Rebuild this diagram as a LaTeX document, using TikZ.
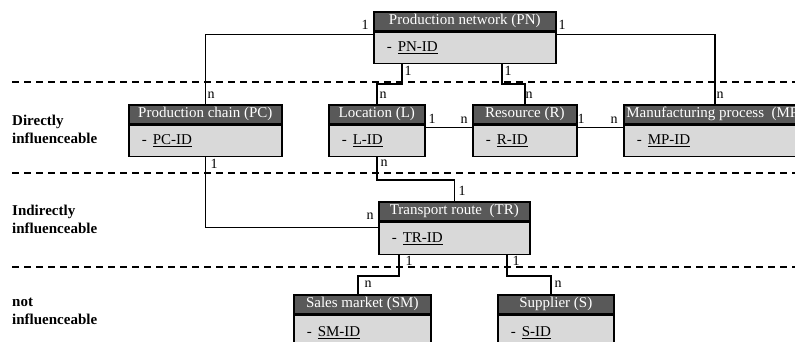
\documentclass[tikz,border=0pt]{standalone}
\usepackage{fontspec}
\setmainfont{Liberation Serif}
\definecolor{hdrgray}{HTML}{595959}
\definecolor{bodygray}{HTML}{D9D9D9}
\begin{document}
\begin{tikzpicture}[x=1pt,y=-1pt,
  hdr/.style={draw=black, line width=1.6pt, fill=hdrgray, text=white, inner sep=0pt,
    minimum height=19pt, font=\fontsize{15}{15}\selectfont, anchor=north west},
  bodyb/.style={draw=black, line width=1.6pt, fill=bodygray, inner ysep=0pt, inner xsep=13pt,
    font=\fontsize{15}{15}\selectfont, anchor=north west, align=left},
  card/.style={font=\fontsize{14}{14}\selectfont, inner sep=0pt},
  conn/.style={line width=1.6pt},
  sepline/.style={line width=1.5pt, dash pattern=on 7pt off 5pt},
  lvl/.style={font=\bfseries\fontsize{15}{18}\selectfont, align=left, anchor=west, inner sep=0pt}]
\clip (0,0) rectangle (795,342);
\fill[white] (0,0) rectangle (795,342);

% separators
\draw[sepline] (12,82) -- (795,82);
\draw[sepline] (12,173) -- (795,173);
\draw[sepline] (12,267) -- (795,267);

% level labels
\node[lvl] (lv1) at (12,129) {Directly\\influenceable};
\node[lvl] (lv2) at (12,219.5) {Indirectly\\influenceable};
\node[lvl] (lv3) at (12,311) {not\\influenceable};

% entities
\node[hdr, minimum width=182pt] (pnH) at (373,11) {Production network (PN)};
\node[bodyb, text width=156pt, minimum height=31pt] (pnB) at (pnH.south west) {-\hspace{6pt}\underline{PN-ID}};

\node[hdr, minimum width=153pt] (pcH) at (128,104) {Production chain (PC)};
\node[bodyb, text width=127pt, minimum height=31pt] (pcB) at (pcH.south west) {-\hspace{6pt}\underline{PC-ID}};

\node[hdr, minimum width=96pt] (lH) at (328,104) {Location (L)};
\node[bodyb, text width=70pt, minimum height=31pt] (lB) at (lH.south west) {-\hspace{6pt}\underline{L-ID}};

\node[hdr, minimum width=104pt] (rH) at (472,104) {Resource (R)};
\node[bodyb, text width=78pt, minimum height=31pt] (rB) at (rH.south west) {-\hspace{6pt}\underline{R-ID}};

\node[hdr, minimum width=182pt] (mpH) at (623,104) {Manufacturing process\ \ (MP)};
\node[bodyb, text width=156pt, minimum height=31pt] (mpB) at (mpH.south west) {-\hspace{6pt}\underline{MP-ID}};

\node[hdr, minimum width=151pt] (trH) at (378,201) {Transport route\ \ (TR)};
\node[bodyb, text width=125pt, minimum height=32pt] (trB) at (trH.south west) {-\hspace{6pt}\underline{TR-ID}};

\node[hdr, minimum width=137pt] (smH) at (293,294) {Sales market (SM)};
\node[bodyb, text width=111pt, minimum height=34pt] (smB) at (smH.south west) {-\hspace{6pt}\underline{SM-ID}};

\node[hdr, minimum width=116pt] (sH) at (497,294) {Supplier (S)};
\node[bodyb, text width=90pt, minimum height=34pt] (sB) at (sH.south west) {-\hspace{6pt}\underline{S-ID}};

% connectors
\draw[conn] ([yshift=-3pt]pnB.north west) -| (pcH.north);
\draw[conn] ([yshift=-3pt]pnB.north east) -| (mpH.north);
\draw[conn] ([xshift=29pt]pnB.south west) -- ++(0,20) -| ([xshift=49pt]lH.north west);
\draw[conn] ([xshift=129pt]pnB.south west) -- ++(0,20) -| (rH.north);
\draw[conn] ([yshift=-3pt]lB.north east) -- ([yshift=-3pt]rB.north west);
\draw[conn] ([yshift=-3pt]rB.north east) -- ([yshift=-3pt]mpB.north west);
\draw[conn] (pcB.south) |- ([yshift=-6pt]trB.north west);
\draw[conn] ([xshift=49pt]lB.south west) -- ++(0,23) -| (trH.north);
\draw[conn] ([xshift=21pt]trB.south west) -- ++(0,21) -| ([xshift=65pt]smH.north west);
\draw[conn] ([xshift=129pt]trB.south west) -- ++(0,21) -| ([xshift=54pt]sH.north west);

% cardinalities
\node[card] (k1) at (365,25) {1};
\node[card] (k2) at (562,25) {1};
\node[card] (k3) at (211,95) {n};
\node[card] (k4) at (720,95) {n};
\node[card] (k5) at (408,71) {1};
\node[card] (k6) at (508,71) {1};
\node[card] (k7) at (383,95) {n};
\node[card] (k8) at (529,95) {n};
\node[card] (k9) at (432,119) {1};
\node[card] (k10) at (464,120) {n};
\node[card] (k11) at (581,119) {1};
\node[card] (k12) at (614,120) {n};
\node[card] (k13) at (214,164) {1};
\node[card] (k14) at (384,163) {n};
\node[card] (k15) at (462,191) {1};
\node[card] (k16) at (370,216) {n};
\node[card] (k17) at (409,261) {1};
\node[card] (k18) at (516,261) {1};
\node[card] (k19) at (368,284) {n};
\node[card] (k20) at (558,284) {n};
\end{tikzpicture}
\end{document}
